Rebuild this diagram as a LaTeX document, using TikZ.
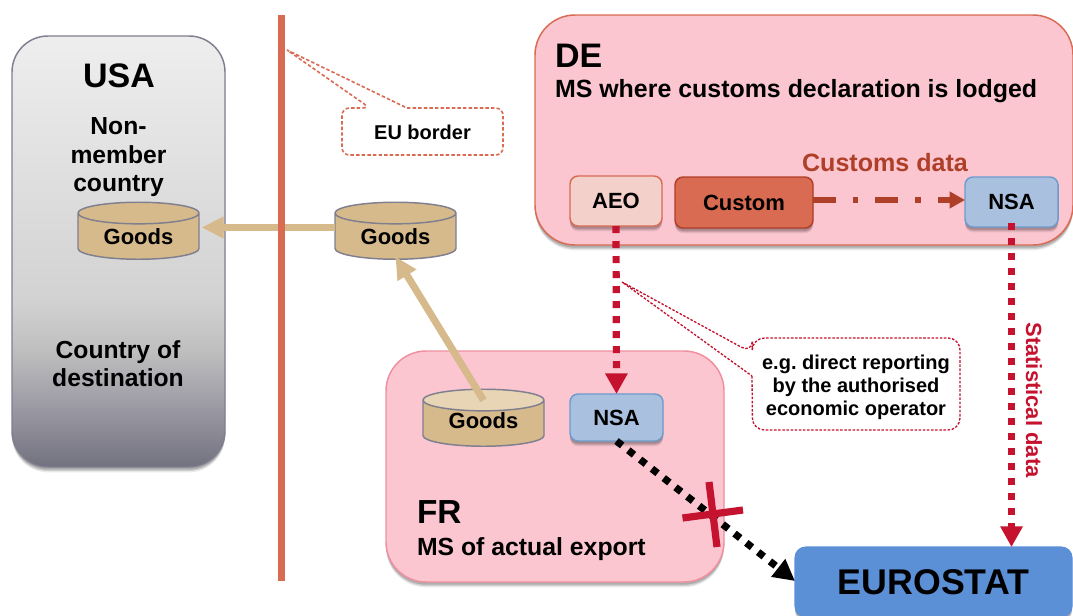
\documentclass[tikz,border=0pt]{standalone}
\usepackage{fontspec}
\setmainfont{Liberation Sans}
\usetikzlibrary{arrows.meta,shapes.geometric,shadows}
\frenchspacing
\def\px{0.75pt}
\definecolor{coral}{HTML}{D96B52}
\definecolor{pinkfill}{HTML}{FBC6D0}
\definecolor{pinkedge}{HTML}{F08FA0}
\definecolor{crimson}{HTML}{C5122F}
\definecolor{rust}{HTML}{AE3F28}
\definecolor{tan}{HTML}{D7BA8B}
\definecolor{tantop}{HTML}{E8D5B5}
\definecolor{slateedge}{HTML}{7F7F8F}
\definecolor{nsafill}{HTML}{A9C1DF}
\definecolor{nsaedge}{HTML}{6D9BCC}
\definecolor{aeofill}{HTML}{F4D0CB}
\definecolor{eurofill}{HTML}{5B8FD6}
\definecolor{usaA}{HTML}{72717F}
\definecolor{usaB}{HTML}{A09FA8}
\definecolor{usaC}{HTML}{BFBFBF}
\definecolor{usaD}{HTML}{D2D2D2}
\definecolor{usaE}{HTML}{EEEEEE}
\pgfdeclareverticalshading{usagrad}{100bp}{color(0bp)=(usaA); color(25bp)=(usaA); color(32.8bp)=(usaB); color(38.6bp)=(usaC); color(44.4bp)=(usaD); color(75bp)=(usaE); color(100bp)=(usaE)}
\newcommand{\fs}[2]{\fontsize{#1}{#2}\selectfont\bfseries}
\tikzset{
  x=0.75pt,y=-0.75pt,
  softshadow/.style={
    drop shadow={shadow xshift=0pt,shadow yshift=-4pt,opacity=.08,fill=black},
    drop shadow={shadow xshift=0pt,shadow yshift=-3pt,opacity=.12,fill=black},
    drop shadow={shadow xshift=0pt,shadow yshift=-2pt,opacity=.16,fill=black}},
  box/.style={rectangle,rounded corners=#1,inner sep=0pt,outer sep=0pt},
  region/.style={box=30pt,draw=coral,line width=1.1pt,fill=pinkfill,softshadow},
  actor/.style={box=6pt,line width=1.1pt,softshadow,font=\fs{16.5}{20}},
  goodscyl/.style={cylinder,shape border rotate=90,aspect=0.31,minimum width=121*\px,minimum height=57*\px,
     inner sep=0pt,outer sep=0pt,draw=slateedge,line width=1.1pt,cylinder uses custom fill,
     cylinder body fill=tan,cylinder end fill=#1,font=\fs{16.5}{20}},
  goodsgo/.style={draw=tan,line width=5.4pt,-{Triangle[length=16.5pt,width=15.5pt]}},
  redpts/.style={draw=crimson,line width=5.4pt,dash pattern=on 5.4pt off 5.85pt,-{Triangle[length=15.5pt,width=16pt,sep=0pt]}},
  lbl/.style={inner sep=0pt,outer sep=0pt,align=center},
}
\begin{document}
\begin{tikzpicture}
\useasboundingbox (0,0) rectangle (1073,615);
% USA
\node[box=27pt,draw=slateedge,line width=1.1pt,shading=usagrad,
  minimum width=213*\px,minimum height=431*\px,softshadow] (usa) at (118.5,251.5) {};
\node[lbl,font=\fs{25.5}{30}] (usat) at (119,76) {USA};
\node[lbl,font=\fs{18.5}{21.4}] (usan) at (118.5,157.5) {Non-\\member\\country};
\node[lbl,font=\fs{18.5}{21}] (usad) at (118,364) {Country of\\destination};
\node[goodscyl=tan] (gusa) at (138.5,236.5) {Goods};
\node[goodscyl=tan] (gmid) at (395.5,236.5) {Goods};
\draw[goodsgo] ([yshift=6.75pt]gmid.west) -- ([yshift=6.75pt,xshift=2pt]gusa.east);
% border
\coordinate (bt) at (281.5,15);
\coordinate (bb) at (281.5,581);
\draw[coral,line width=5.4pt] (bt) -- (bb);
\coordinate (eutip) at (287,50);
\draw[coral,line width=1.2pt,dash pattern=on 2.6pt off 1.6pt,fill=white] [rounded corners=5.5pt] (407,108) -- (503,108) -- (503,155) -- (342,155) -- (342,108) -- (370,108) [sharp corners] -- (eutip) -- cycle;
\node[lbl,font=\fs{15}{18}] (eut) at (422.5,132) {EU border};
% DE
\node[region,minimum width=538*\px,minimum height=230*\px] (de) at (804,130) {};
\node[lbl,anchor=base west,font=\fs{25.5}{30}] (det) at (555,67) {DE};
\node[lbl,anchor=base west,font=\fs{18.7}{22}] (des) at (555,97) {MS where customs declaration is lodged};
\node[actor,draw=coral,fill=aeofill,minimum width=92*\px,minimum height=50*\px] (aeo) at (616,201) {AEO};
\node[actor,draw=rust,fill=coral,minimum width=138*\px,minimum height=51*\px] (custom) at (744,202.5) {Custom};
\node[actor,draw=nsaedge,fill=nsafill,minimum width=93*\px,minimum height=50*\px] (nsade) at (1011.5,202) {NSA};
\node[lbl,text=rust,font=\fs{18.8}{22}] (cdata) at (885,163) {Customs data};
\draw[rust,line width=4.2pt,dash pattern=on 17pt off 12.8pt on 4.2pt off 12.8pt,-{Triangle[length=11.5pt,width=12pt,sep=0pt]}] (custom.east |- 0,200) -- (nsade.west |- 0,200);
% FR
\node[region,draw=pinkedge,minimum width=338*\px,minimum height=231*\px] (fr) at (555,466.5) {};
\node[lbl,anchor=base west,font=\fs{25}{30}] (frt) at (417,523) {FR};
\node[lbl,anchor=base west,font=\fs{18.6}{22}] (frs) at (417,555) {MS of actual export};
\node[goodscyl=tantop] (gfr) at (483.5,423.5) {\raisebox{4.4pt}{Goods}};
\node[actor,draw=nsaedge,fill=nsafill,minimum width=93*\px,minimum height=47*\px] (nsafr) at (616.5,417.5) {NSA};
\draw[goodsgo] ([yshift=-11*\px]gfr.north) -- ([yshift=2pt]gmid.south);
% EUROSTAT
\node[box=8pt,fill=eurofill,draw=eurofill,line width=.8pt,minimum width=277*\px,minimum height=70*\px,font=\fs{26.8}{30},softshadow] (euro) at (933.5,582) {EUROSTAT};
% data arrows
\draw[redpts] (aeo.south) -- (nsafr.north);
\draw[redpts] ([yshift=3pt]nsade.south) -- (euro.north -| nsade.south);
\node[lbl,rotate=-90,text=crimson,font=\fs{16.5}{20}] (sdata) at (1034,400) {Statistical data};
\draw[black,line width=5.4pt,dash pattern=on 5.4pt off 5.85pt,-{Triangle[length=16pt,width=16pt,sep=0pt]}] (nsafr.south) -- (euro.west |- 0,581);
% cross
\coordinate (xa) at (709,482); \coordinate (xb) at (717,547);
\coordinate (xc) at (682.5,518); \coordinate (xd) at (743,510);
\draw[crimson,line width=5.4pt] (xa) -- (xb) (xc) -- (xd);
% callout
\coordinate (tip) at (622,282);
\draw[crimson,line width=1pt,dash pattern=on 1.9pt off 1.2pt,fill=white] [rounded corners=9pt] (752,376) -- (752.5,430) -- (960,430) -- (960,338) -- (752.5,338) -- (752,353) [sharp corners] -- (tip) -- cycle;
\node[lbl,font=\fs{15}{17.3}] (eg) at (856,387) {e.g. direct reporting\\by the authorised\\economic operator};
\end{tikzpicture}
\end{document}
